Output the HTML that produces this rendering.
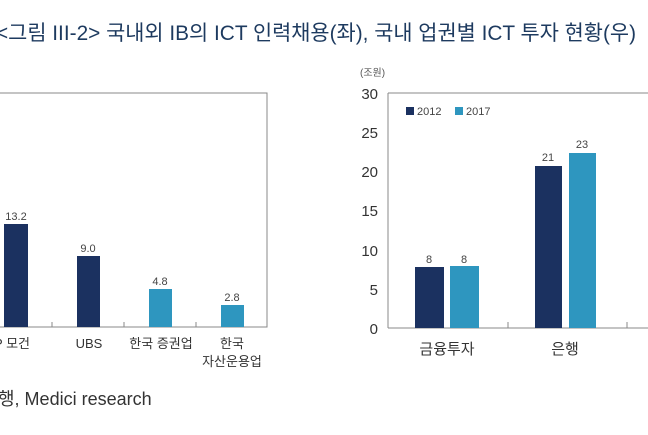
<!DOCTYPE html>
<html><head><meta charset="utf-8"><style>
body{margin:0;width:648px;height:430px;overflow:hidden;background:#fff;font-family:"Liberation Sans","Noto Sans CJK KR",sans-serif;}
</style></head><body>
<svg width="648" height="430" xmlns="http://www.w3.org/2000/svg" font-family="Liberation Sans, Noto Sans CJK KR, sans-serif">
<text x="-4" y="40" font-size="21" fill="#1d3a5f" textLength="640" lengthAdjust="spacingAndGlyphs">&lt;그림 III-2&gt; 국내외 IB의 ICT 인력채용(좌), 국내 업권별 ICT 투자 현황(우)</text>
<!-- left chart -->
<polyline points="0,93 267,93 267,327 0,327" fill="none" stroke="#888" stroke-width="1"/>
<g stroke="#888"><line x1="52" y1="322" x2="52" y2="327"/><line x1="124" y1="322" x2="124" y2="327"/><line x1="196" y1="322" x2="196" y2="327"/></g>
<rect x="4" y="224" width="24" height="103" fill="#1b3160"/>
<rect x="77" y="256" width="23" height="71" fill="#1b3160"/>
<rect x="149" y="289" width="23" height="38" fill="#2e96bf"/>
<rect x="221" y="305" width="23" height="22" fill="#2e96bf"/>
<g font-size="11" fill="#444" text-anchor="middle">
<text x="16" y="220">13.2</text><text x="88" y="252">9.0</text><text x="160" y="285">4.8</text><text x="232" y="301">2.8</text>
</g>
<g font-size="13" fill="#333" text-anchor="middle">
<text x="12" y="348">P 모건</text><text x="89" y="348">UBS</text><text x="161" y="348">한국 증권업</text><text x="232" y="348">한국</text><text x="232" y="366">자산운용업</text>
</g>
<text x="-2" y="405" font-size="18" fill="#333">행, Medici research</text>
<!-- right chart -->
<text x="360" y="76" font-size="10" fill="#555">(조원)</text>
<line x1="388" y1="93" x2="648" y2="93" stroke="#888"/>
<line x1="388" y1="93" x2="388" y2="328" stroke="#888"/>
<line x1="388" y1="328" x2="648" y2="328" stroke="#888"/>
<g stroke="#888"><line x1="508" y1="322" x2="508" y2="328"/><line x1="627" y1="322" x2="627" y2="328"/></g>
<g font-size="15" fill="#333" text-anchor="end">
<text x="378" y="99">30</text><text x="378" y="138">25</text><text x="378" y="177">20</text><text x="378" y="216">15</text><text x="378" y="256">10</text><text x="378" y="295">5</text><text x="378" y="334">0</text>
</g>
<rect x="406" y="107" width="8" height="8" fill="#1b3160"/><text x="417" y="115" font-size="11" fill="#444">2012</text>
<rect x="455" y="107" width="8" height="8" fill="#2e96bf"/><text x="466" y="115" font-size="11" fill="#444">2017</text>
<rect x="415" y="267" width="29" height="61" fill="#1b3160"/>
<rect x="450" y="266" width="29" height="62" fill="#2e96bf"/>
<rect x="535" y="166" width="27" height="162" fill="#1b3160"/>
<rect x="569" y="153" width="27" height="175" fill="#2e96bf"/>
<g font-size="11" fill="#444" text-anchor="middle">
<text x="429" y="263">8</text><text x="464" y="263">8</text><text x="548" y="161">21</text><text x="582" y="148">23</text>
</g>
<g font-size="15" fill="#333" text-anchor="middle">
<text x="447" y="354">금융투자</text><text x="565" y="354">은행</text>
</g>
</svg>
</body></html>
